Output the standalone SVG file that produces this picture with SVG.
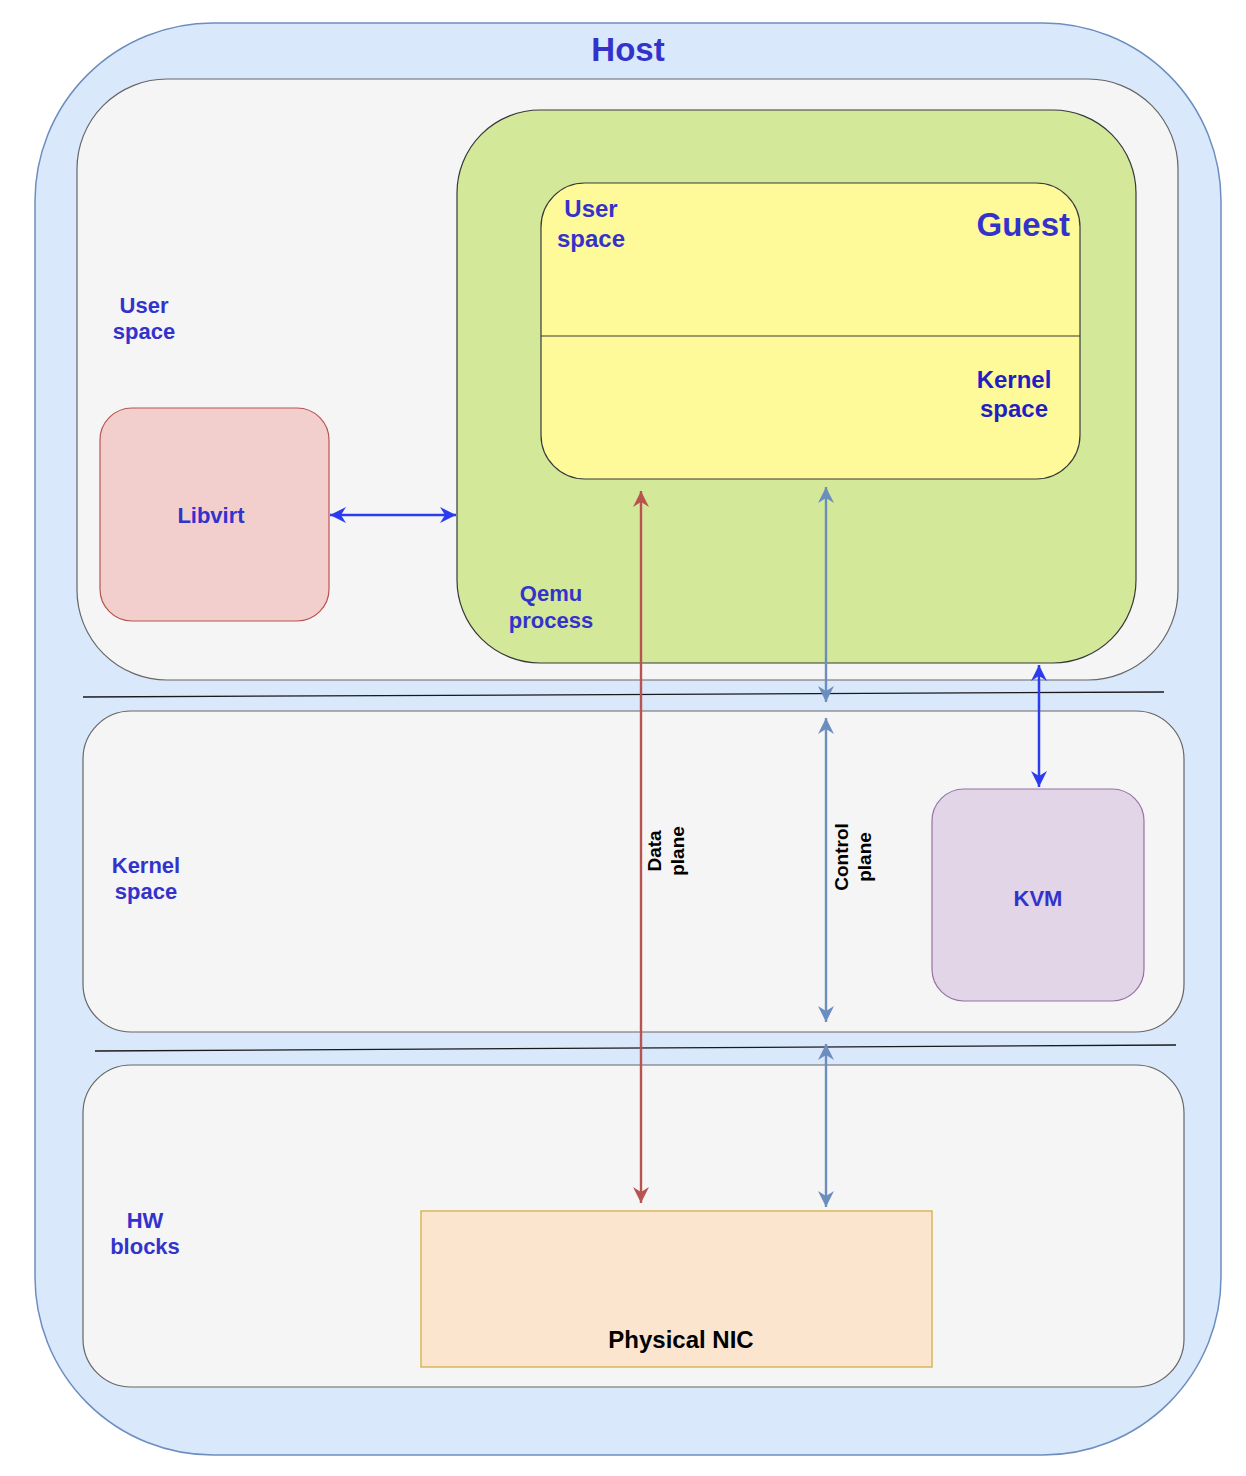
<svg xmlns="http://www.w3.org/2000/svg" width="1246" height="1476" viewBox="0 0 1246 1476">
<style>
text{font-family:"Liberation Sans",Arial,sans-serif;font-weight:bold;}
.lbl{fill:#3333cc;font-size:22px;text-anchor:middle;}
.big{fill:#3333cc;font-size:33px;}
.panel{fill:#f5f5f5;stroke:#666666;stroke-width:1.2;}
.dark{fill:#000000;font-size:19px;text-anchor:middle;}
.sep{stroke:#1a1a1a;stroke-width:1.3;fill:none;}
</style>
<defs>
<marker id="mBlue" viewBox="0 0 16 16" refX="16" refY="8" markerWidth="16" markerHeight="16" orient="auto-start-reverse" markerUnits="userSpaceOnUse"><path d="M0,0 L16,8 L0,16 L5,8 z" fill="#2b3cf0"/></marker>
<marker id="mRed" viewBox="0 0 16 16" refX="16" refY="8" markerWidth="16" markerHeight="16" orient="auto-start-reverse" markerUnits="userSpaceOnUse"><path d="M0,0 L16,8 L0,16 L5,8 z" fill="#b85450"/></marker>
<marker id="mSteel" viewBox="0 0 16 16" refX="16" refY="8" markerWidth="16" markerHeight="16" orient="auto-start-reverse" markerUnits="userSpaceOnUse"><path d="M0,0 L16,8 L0,16 L5,8 z" fill="#6c8ebf"/></marker>
</defs>

<g id="host">
<rect x="35" y="23" width="1186" height="1432" rx="178" ry="178" fill="#dae8fc" stroke="#6c8ebf" stroke-width="1.5"/>
<text class="big" x="628" y="61" text-anchor="middle">Host</text>
</g>

<g id="user-space-panel">
<rect class="panel" x="77" y="79" width="1101" height="601" rx="90" ry="90"/>
<text class="lbl" x="144"><tspan x="144" y="313">User</tspan><tspan x="144" y="339">space</tspan></text>
</g>

<g id="kernel-space-panel">
<rect class="panel" x="83" y="711" width="1101" height="321" rx="48" ry="48"/>
<text class="lbl"><tspan x="146" y="873">Kernel</tspan><tspan x="146" y="899">space</tspan></text>
</g>

<g id="hw-blocks-panel">
<rect class="panel" x="83" y="1065" width="1101" height="322" rx="48" ry="48"/>
<text class="lbl"><tspan x="145" y="1228">HW</tspan><tspan x="145" y="1254">blocks</tspan></text>
</g>

<g id="separators">
<line class="sep" x1="83" y1="697" x2="1164" y2="692"/>
<line class="sep" x1="95" y1="1051" x2="1176" y2="1045"/>
</g>

<g id="qemu-process">
<rect x="457" y="110" width="679" height="553" rx="83" ry="83" fill="#d4e899" stroke="#36393d" stroke-width="1.2"/>
<text class="lbl"><tspan x="551" y="601">Qemu</tspan><tspan x="551" y="628">process</tspan></text>
</g>

<g id="guest">
<rect x="541" y="183" width="539" height="296" rx="44" ry="44" fill="#fffa99" stroke="#36393d" stroke-width="1.2"/>
<line x1="541" y1="336" x2="1080" y2="336" stroke="#36393d" stroke-width="1.2"/>
<text class="big" x="1070" y="236" text-anchor="end">Guest</text>
<text class="lbl" style="font-size:24px"><tspan x="591" y="217">User</tspan><tspan x="591" y="247">space</tspan></text>
<text class="lbl" style="font-size:24px;fill:#1f1fc2"><tspan x="1014" y="388">Kernel</tspan><tspan x="1014" y="417">space</tspan></text>
</g>

<g id="libvirt">
<rect x="100" y="408" width="229" height="213" rx="32" ry="32" fill="#f2cfcc" stroke="#b85450" stroke-width="1.2"/>
<text class="lbl" x="211" y="523">Libvirt</text>
</g>

<g id="kvm">
<rect x="932" y="789" width="212" height="212" rx="32" ry="32" fill="#e1d5e7" stroke="#9673a6" stroke-width="1.2"/>
<text class="lbl" x="1038" y="906">KVM</text>
</g>

<g id="physical-nic">
<rect x="421" y="1211" width="511" height="156" fill="#fbe5cf" stroke="#d6b656" stroke-width="1.5"/>
<text x="681" y="1348" text-anchor="middle" style="font-size:24px;fill:#000">Physical NIC</text>
</g>

<g id="connectors" fill="none">
<line x1="330" y1="515" x2="456" y2="515" stroke="#2b3cf0" stroke-width="2.5" marker-start="url(#mBlue)" marker-end="url(#mBlue)"/>
<line x1="1039" y1="665" x2="1039" y2="787" stroke="#2b3cf0" stroke-width="2.5" marker-start="url(#mBlue)" marker-end="url(#mBlue)"/>
<line x1="641" y1="491" x2="641" y2="1203" stroke="#b85450" stroke-width="2.4" marker-start="url(#mRed)" marker-end="url(#mRed)"/>
<line x1="826" y1="487" x2="826" y2="702" stroke="#6c8ebf" stroke-width="2.4" marker-start="url(#mSteel)" marker-end="url(#mSteel)"/>
<line x1="826" y1="718" x2="826" y2="1022" stroke="#6c8ebf" stroke-width="2.4" marker-start="url(#mSteel)" marker-end="url(#mSteel)"/>
<line x1="826" y1="1044" x2="826" y2="1207" stroke="#6c8ebf" stroke-width="2.4" marker-start="url(#mSteel)" marker-end="url(#mSteel)"/>
</g>

<g id="connector-labels">
<text class="dark" transform="translate(661,851) rotate(-90)"><tspan x="0" y="0">Data</tspan><tspan x="0" y="23">plane</tspan></text>
<text class="dark" transform="translate(848,857) rotate(-90)"><tspan x="0" y="0">Control</tspan><tspan x="0" y="23">plane</tspan></text>
</g>
</svg>
